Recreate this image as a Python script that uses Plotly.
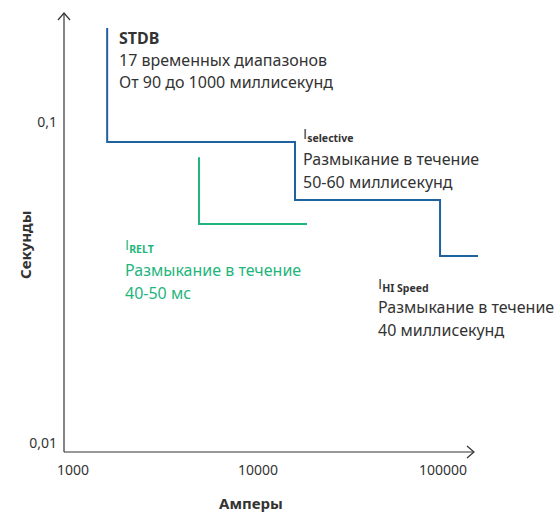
import plotly.graph_objects as go

# ---- data ----
stdb_amps = [1530, 1530, 15850, 15850, 96400, 96400, 154600]
stdb_secs = [0.197, 0.0869, 0.0869, 0.0574, 0.0574, 0.0384, 0.0384]
relt_amps = [4800, 4800, 18400]
relt_secs = [0.078, 0.0483, 0.0483]
x_tick_vals = [1000, 10000, 100000]
x_tick_text = ["1000", "10000", "100000"]
y_tick_vals = [0.01, 0.1]
y_tick_text = ["0,01", "0,1"]

W, H = 558, 513
L, R, T, B = 64, 486, 13, 452  # plot area in px
AXIS_END = 474

def px(x):
    return (x - L) / (R - L)

def py(y):
    return (B - y) / (B - T)

BLUE = "#1f62a0"
GREEN = "#1fb57c"
TXT = "#333333"
AX = "#333333"
FONT = "Noto Sans"

fig = go.Figure()
fig.add_trace(go.Scatter(x=stdb_amps, y=stdb_secs, mode="lines",
                         line=dict(color=BLUE, width=2), hoverinfo="skip"))
fig.add_trace(go.Scatter(x=relt_amps, y=relt_secs, mode="lines",
                         line=dict(color=GREEN, width=2), hoverinfo="skip"))

x_lo = 3 + (L - 73) / 185
x_hi = 3 + (R - 73) / 185
y_lo = -1 - (B - 122.5) / 321
y_hi = -1 + (122.5 - T) / 321

fig.update_layout(
    width=W, height=H,
    margin=dict(l=L, r=W - R, t=T, b=H - B),
    paper_bgcolor="white", plot_bgcolor="white",
    showlegend=False,
    font=dict(family=FONT, color=TXT, size=15),
    xaxis=dict(type="log", range=[x_lo, x_hi], tickvals=x_tick_vals, ticktext=x_tick_text,
               showgrid=False, zeroline=False, showline=False,
               ticks="", ticklabelstandoff=8, tickfont=dict(size=14, color=TXT)),
    yaxis=dict(type="log", range=[y_lo, y_hi], tickvals=y_tick_vals, ticktext=y_tick_text,
               showgrid=False, zeroline=False, showline=False,
               ticks="", ticklabelstandoff=6, tickfont=dict(size=14, color=TXT)),
)

# axis lines with open arrow heads
fig.add_shape(type="path", xref="paper", yref="paper",
              path=f"M {px(64)} {py(452)} L {px(64)} {py(13)}",
              line=dict(color=AX, width=1.2))
fig.add_shape(type="path", xref="paper", yref="paper",
              path=f"M {px(64)} {py(452)} L {px(AXIS_END)} {py(452)}",
              line=dict(color=AX, width=1.2))
fig.add_shape(type="path", xref="paper", yref="paper",
              path=f"M {px(58)} {py(20)} L {px(64)} {py(13)} L {px(70)} {py(20)}",
              line=dict(color=AX, width=1.2))
fig.add_shape(type="path", xref="paper", yref="paper",
              path=f"M {px(AXIS_END - 7)} {py(446)} L {px(AXIS_END)} {py(452)} L {px(AXIS_END - 7)} {py(458)}",
              line=dict(color=AX, width=1.2))

def txt(x, y, s, color=TXT, size=16):
    fig.add_annotation(x=px(x), y=py(y), xref="paper", yref="paper", text=s,
                       showarrow=False, xanchor="left", yanchor="middle",
                       font=dict(size=size, color=color, family=FONT))

I_SPAN = "<span style='font-family:Open Sans'>I</span>"

# STDB block
txt(117, 38, "<b>STDB</b>")
txt(117, 60, "17 временных диапазонов")
txt(117, 82, "От 90 до 1000 миллисекунд")

# I selective
txt(301, 134, I_SPAN + "<sub><b>selective</b></sub>", size=15)
txt(301, 159, "Размыкание в течение")
txt(301, 182, "50-60 миллисекунд")

# I RELT
txt(123, 245, I_SPAN + "<sub><b>RELT</b></sub>", color=GREEN, size=15)
txt(123, 270, "Размыкание в течение", color=GREEN)
txt(123, 293, "40-50 мс", color=GREEN)

# I HI Speed
txt(376, 284, I_SPAN + "<sub><b>HI Speed</b></sub>", size=15)
txt(376, 307, "Размыкание в течение")
txt(376, 330, "40 миллисекунд")

# axis titles
fig.add_annotation(x=px(251), y=py(503), xref="paper", yref="paper", text="<b>Амперы</b>",
                   showarrow=False, xanchor="center", yanchor="middle",
                   font=dict(size=15, color=TXT, family=FONT))
fig.add_annotation(x=px(25), y=py(245), xref="paper", yref="paper", text="<b>Секунды</b>",
                   showarrow=False, xanchor="center", yanchor="middle", textangle=-90,
                   font=dict(size=15, color=TXT, family=FONT))

fig.write_html("out.html", config={"displayModeBar": False},
               post_script="document.body.style.margin='0';document.body.style.overflow='hidden';")
